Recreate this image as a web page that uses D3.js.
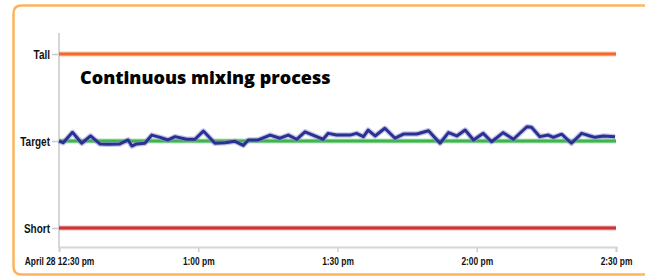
<!DOCTYPE html>
<html>
<head>
<meta charset="utf-8">
<script src="https://cdn.jsdelivr.net/npm/d3@7"></script>
<style>
  html, body { margin: 0; background: #fff; overflow: hidden; }
  svg { display: block; }
  .lbl { font-family: "Liberation Sans", "DejaVu Sans", sans-serif; font-weight: bold; fill: #111; }
  .title { font-family: "Open Sans", "Noto Sans", sans-serif; font-weight: 800; fill: #000; }
</style>
</head>
<body>
<div id="chart"></div>
<script>
// minutes after 12:30 pm, and the measured level (100 = target)
const minutes = [0, 0.9, 2.9, 4.9, 6.8, 8.8, 10.6, 13.1, 14.9, 15.7, 16.7, 18.5, 20.0, 21.8, 23.5, 25.0, 27.5, 29.3, 31.1, 33.6,
  35.8, 37.9, 39.7, 40.8, 42.9, 45.5, 47.6, 49.4, 51.2, 53.0, 55.5, 56.9, 58.0, 59.8, 62.7, 64.1, 65.6, 66.6, 68.1, 70.2,
  72.4, 74.2, 77.1, 79.6, 82.1, 83.9, 85.7, 87.5, 89.3, 91.4, 93.2, 95.7, 97.9, 100.8, 101.8, 103.6, 105.4, 106.5, 108.3, 110.4,
  112.6, 114.4, 115.5, 117.3, 119.8];
const levels = [100.00, 99.90, 100.50, 99.87, 100.29, 99.83, 99.81, 99.83, 100.06, 99.71, 99.83, 99.87, 100.34, 100.21, 100.06, 100.25, 100.10, 100.10, 100.57, 99.87,
  99.90, 99.98, 99.75, 100.06, 100.06, 100.34, 100.16, 100.34, 100.10, 100.53, 100.25, 100.10, 100.44, 100.34, 100.34, 100.44, 100.25, 100.63, 100.29, 100.73,
  100.16, 100.40, 100.40, 100.59, 99.87, 100.48, 100.29, 100.63, 100.06, 100.44, 99.96, 100.48, 100.10, 100.82, 100.79, 100.25, 100.34, 100.21, 100.39, 99.87,
  100.44, 100.29, 100.21, 100.29, 100.25];

const limitNames = ['Short', 'Target', 'Tall'];
const limitValues = [95, 100, 105];
const limitColors = ['#cc3434', '#3db54a', '#f26a2c'];
const tickLabels = ['April 28 12:30 pm', '1:00 pm', '1:30 pm', '2:00 pm', '2:30 pm'];
const title = 'Continuous mixing process';

const width = 645, height = 278;
const start = new Date(2014, 3, 28, 12, 30);
const end = new Date(2014, 3, 28, 14, 30);

const svg = d3.select('#chart').append('svg')
  .attr('width', width)
  .attr('height', height);

// orange frame, open on the right
const r = 8, fx = 13.5, fy = 5.5, fb = 274.5;
svg.append('path')
  .attr('d', `M${width + 5},${fy} H${fx + r} Q${fx},${fy} ${fx},${fy + r} V${fb - r} Q${fx},${fb} ${fx + r},${fb} H${width + 5}`)
  .attr('fill', 'none')
  .attr('stroke', '#fdb45c')
  .attr('stroke-width', 2.5);
// white strip on the right so nothing closes the frame there
svg.append('rect')
  .attr('x', 628).attr('y', 8)
  .attr('width', 20).attr('height', 264)
  .attr('fill', '#fff');

const x = d3.scaleTime().domain([start, end]).range([59, 616]);
const y = d3.scaleLinear().domain([95, 105]).range([228, 54]);

// squeeze label text so it looks like a condensed face
function condense(sel, k) {
  sel.each(function () {
    const w = this.getComputedTextLength();
    d3.select(this)
      .attr('textLength', w * k)
      .attr('lengthAdjust', 'spacingAndGlyphs');
  });
}

// axes
svg.append('line')
  .attr('x1', 59).attr('x2', 59).attr('y1', 33).attr('y2', 248)
  .attr('stroke', '#d6d6d6').attr('stroke-width', 2);

const xAxis = d3.axisBottom(x)
  .ticks(d3.timeMinute.every(30))
  .tickSize(5)
  .tickFormat((d, i) => tickLabels[i]);

const gx = svg.append('g')
  .attr('transform', 'translate(0,247)')
  .call(xAxis);
gx.select('.domain').attr('stroke', '#d6d6d6').attr('stroke-width', 2);
gx.selectAll('.tick line').attr('stroke', '#d0d0d0').attr('stroke-width', 1.5);
gx.selectAll('.tick text')
  .attr('class', 'lbl')
  .attr('y', 10)
  .style('font-size', '11.5px')
  .call(condense, 0.73);

const yAxis = d3.axisLeft(y)
  .tickValues(limitValues)
  .tickSize(6)
  .tickFormat((d, i) => limitNames[i]);

const gy = svg.append('g')
  .attr('transform', 'translate(58,0)')
  .call(yAxis);
gy.select('.domain').remove();
gy.selectAll('.tick line').attr('stroke', '#c8c8c8').attr('stroke-width', 1.5);
gy.selectAll('.tick text')
  .attr('class', 'lbl')
  .attr('x', -8)
  .style('font-size', '13.5px')
  .call(condense, 0.74);

// limit lines
limitValues.forEach((v, i) => {
  svg.append('line')
    .attr('x1', x(start)).attr('x2', x(end))
    .attr('y1', y(v)).attr('y2', y(v))
    .attr('stroke', limitColors[i])
    .attr('stroke-opacity', 0.35)
    .attr('stroke-width', 5);
  svg.append('line')
    .attr('x1', x(start)).attr('x2', x(end))
    .attr('y1', y(v)).attr('y2', y(v))
    .attr('stroke', limitColors[i])
    .attr('stroke-width', 3);
});

// process line
const points = minutes.map((m, i) => ({ t: d3.timeSecond.offset(start, Math.round(m * 60)), v: levels[i] }));
const line = d3.line()
  .x(d => x(d.t))
  .y(d => y(d.v));

svg.append('path')
  .datum(points)
  .attr('d', line)
  .attr('fill', 'none')
  .attr('stroke', '#8a8fd0')
  .attr('stroke-opacity', 0.5)
  .attr('stroke-width', 5.5)
  .attr('stroke-linejoin', 'round');

svg.append('path')
  .datum(points)
  .attr('d', line)
  .attr('fill', 'none')
  .attr('stroke', '#2b3193')
  .attr('stroke-width', 3)
  .attr('stroke-linejoin', 'round');

svg.append('text')
  .attr('class', 'title')
  .attr('x', 80)
  .attr('y', 84)
  .style('font-size', '18px')
  .text(title);
</script>
</body>
</html>
